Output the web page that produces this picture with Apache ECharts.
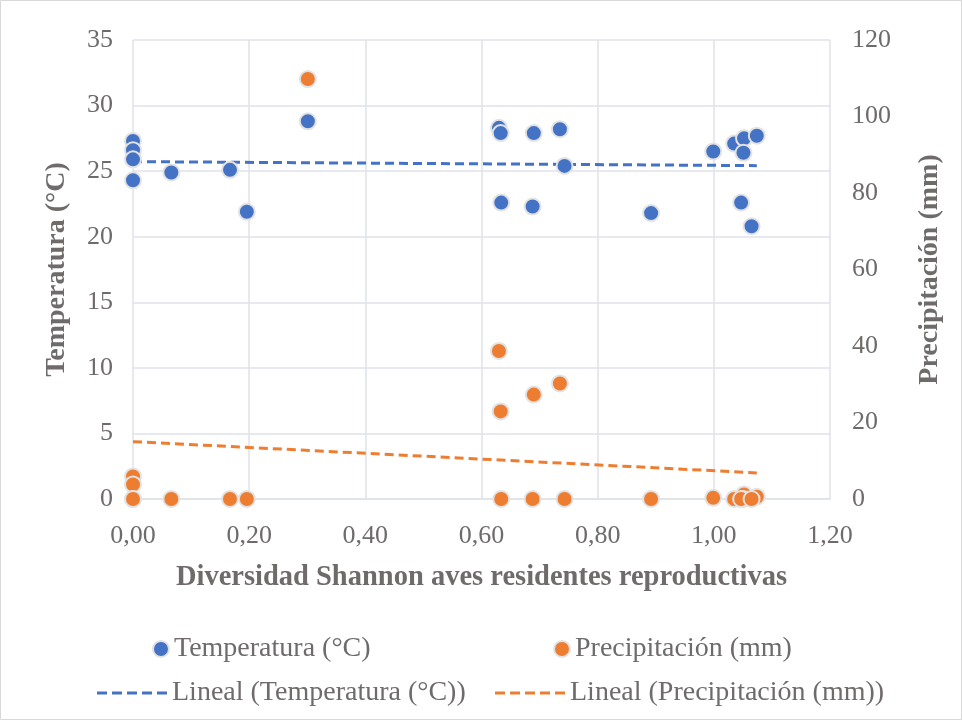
<!DOCTYPE html>
<html>
<head>
<meta charset="utf-8">
<script src="https://cdn.jsdelivr.net/npm/echarts@6/dist/echarts.min.js"></script>
<style>
html, body { margin: 0; padding: 0; background: #fff; }
#chart { width: 962px; height: 720px; }
</style>
</head>
<body>
<div id="chart"></div>
<script>
// valores (un punto por sitio)
var shannon = [0, 0, 0, 0, 0.066, 0.167, 0.196, 0.301, 0.630, 0.633, 0.634, 0.690, 0.688,
    0.735, 0.743, 0.892, 0.999, 1.035, 1.052, 1.051, 1.074, 1.047, 1.065];
var temperatura = [27.3, 26.6, 25.9, 24.3, 24.9, 25.1, 21.9, 28.8, 28.3, 27.9, 22.6, 27.9, 22.3,
    28.2, 25.4, 21.8, 26.5, 27.1, 27.5, 26.4, 27.7, 22.6, 20.8];
var precipitacion = [5.9, 3.8, 0, 0, 0, 0, 0, 109.8, 38.7, 22.9, 0, 27.3, 0,
    30.2, 0, 0, 0.3, 0, 1.2, 0, 0.6, 0, 0];

var gris = '#6f6b6b';
var rejilla = '#dfe2e8';
var fuente = 'Liberation Serif';
// icono de la leyenda para las lineas de tendencia (trazo discontinuo)
var iconoGuiones = 'path://M0,0h10v3h-10z M15,0h10v3h-10z M30,0h10v3h-10z M45,0h10v3h-10z M60,0h10v3h-10z';

function pares(xs, ys) {
    var out = [];
    for (var i = 0; i < xs.length; i++) out.push([xs[i], ys[i]]);
    return out;
}

// tendencia lineal (minimos cuadrados), como la de Excel
function lineal(xs, ys) {
    var n = xs.length, sx = 0, sy = 0, sxx = 0, sxy = 0;
    for (var i = 0; i < n; i++) {
        sx += xs[i]; sy += ys[i];
        sxx += xs[i] * xs[i]; sxy += xs[i] * ys[i];
    }
    var b = (n * sxy - sx * sy) / (n * sxx - sx * sx);
    var a = (sy - b * sx) / n;
    var x0 = Math.min.apply(null, xs), x1 = Math.max.apply(null, xs);
    return [[x0, a + b * x0], [x1, a + b * x1]];
}

function coma(v) {
    return v.toFixed(2).replace('.', ',');
}

var marcador = { borderColor: '#e2e2e2', borderWidth: 2, opacity: 1 };
var textoLeyenda = { color: gris, fontSize: 28, fontFamily: fuente };

var myChart = echarts.init(document.getElementById('chart'));
var option = {
    backgroundColor: '#fff',
    animation: false,
    textStyle: { fontFamily: fuente },
    graphic: [{
        type: 'rect',
        shape: { x: 0.5, y: 0.5, width: 961, height: 719 },
        style: { fill: 'none', stroke: '#d9d9d9', lineWidth: 1 },
        silent: true
    }],
    grid: { left: 133, right: 132, top: 40, bottom: 221 },
    legend: [{
        data: ['Temperatura (°C)'], left: 147, top: 630,
        itemWidth: 16, itemHeight: 16, textStyle: textoLeyenda
    }, {
        data: ['Precipitación (mm)'], left: 548, top: 630,
        itemWidth: 16, itemHeight: 16, textStyle: textoLeyenda
    }, {
        data: ['Lineal (Temperatura (°C))'], left: 92, top: 674,
        icon: iconoGuiones, itemWidth: 70, itemHeight: 3, textStyle: textoLeyenda
    }, {
        data: ['Lineal (Precipitación (mm))'], left: 490, top: 674,
        icon: iconoGuiones, itemWidth: 70, itemHeight: 3, textStyle: textoLeyenda
    }],
    xAxis: {
        type: 'value', min: 0, max: 1.2, interval: 0.2,
        name: 'Diversidad Shannon aves residentes reproductivas',
        nameLocation: 'middle', nameGap: 64,
        nameTextStyle: { color: gris, fontSize: 28.5, fontWeight: 'bold', fontFamily: fuente },
        axisLine: { show: true, lineStyle: { color: rejilla, width: 1.5 } },
        axisTick: { show: false },
        axisLabel: { color: gris, fontSize: 26, margin: 24, formatter: coma },
        splitLine: { show: true, lineStyle: { color: rejilla, width: 1.5 } }
    },
    yAxis: [{
        type: 'value', min: 0, max: 35, interval: 5,
        name: 'Temperatura (°C)', nameLocation: 'middle', nameGap: 62,
        nameTextStyle: { color: gris, fontSize: 28, fontWeight: 'bold', fontFamily: fuente },
        axisLine: { show: false },
        axisTick: { show: false },
        axisLabel: { color: gris, fontSize: 26, margin: 20 },
        splitLine: { show: true, lineStyle: { color: rejilla, width: 1.5 } }
    }, {
        type: 'value', min: 0, max: 120, interval: 20, position: 'right',
        name: 'Precipitación (mm)', nameLocation: 'middle', nameGap: 86,
        nameTextStyle: { color: gris, fontSize: 28, fontWeight: 'bold', fontFamily: fuente },
        axisLine: { show: false },
        axisTick: { show: false },
        axisLabel: { color: gris, fontSize: 26, margin: 22 },
        splitLine: { show: false }
    }],
    series: [{
        name: 'Temperatura (°C)', type: 'scatter', yAxisIndex: 0, z: 3,
        symbolSize: 16,
        itemStyle: Object.assign({ color: '#4472c4' }, marcador),
        data: pares(shannon, temperatura)
    }, {
        name: 'Precipitación (mm)', type: 'scatter', yAxisIndex: 1, z: 3,
        symbolSize: 16,
        itemStyle: Object.assign({ color: '#ed7d31' }, marcador),
        data: pares(shannon, precipitacion)
    }, {
        name: 'Lineal (Temperatura (°C))', type: 'line', yAxisIndex: 0, z: 2,
        symbol: 'none', silent: true,
        itemStyle: { color: '#4472c4' },
        lineStyle: { color: '#4472c4', width: 3, type: [9, 5] },
        data: lineal(shannon, temperatura)
    }, {
        name: 'Lineal (Precipitación (mm))', type: 'line', yAxisIndex: 1, z: 2,
        symbol: 'none', silent: true,
        itemStyle: { color: '#ed7d31' },
        lineStyle: { color: '#ed7d31', width: 3, type: [9, 5] },
        data: lineal(shannon, precipitacion)
    }]
};
if (option && typeof option === "object") {
    myChart.setOption(option, true);
}
</script>
</body>
</html>
